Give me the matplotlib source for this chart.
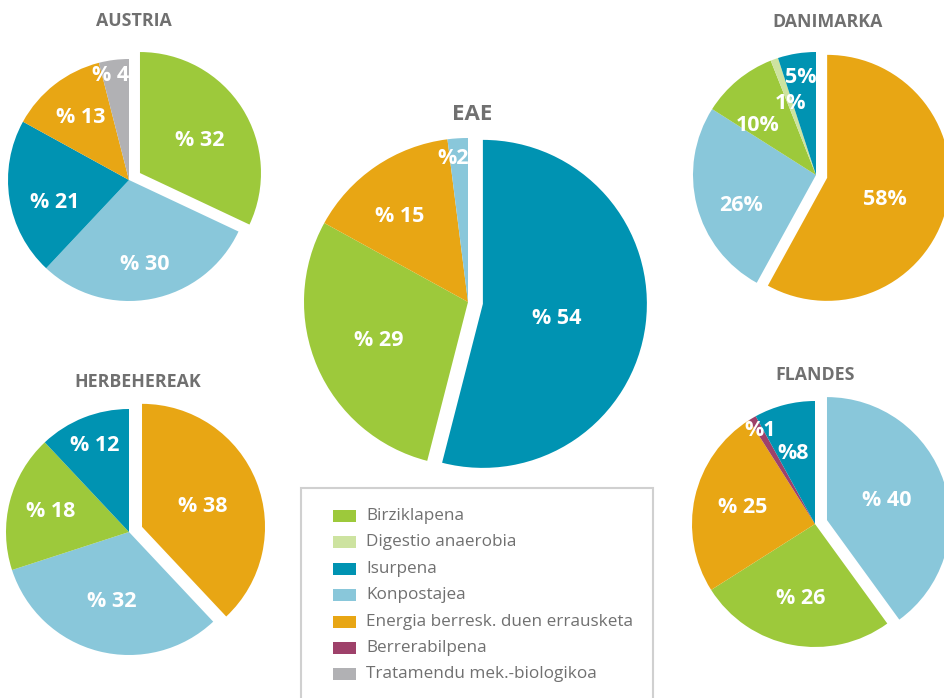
import numpy as np
import matplotlib.pyplot as plt
from matplotlib.patches import Rectangle

# kategoriak eta koloreak
kategoriak = ['Birziklapena', 'Digestio anaerobia', 'Isurpena', 'Konpostajea',
              'Energia berresk. duen errausketa', 'Berrerabilpena',
              'Tratamendu mek.-biologikoa']
koloreak = ['#9dc93b', '#cde3a0', '#0093b2', '#89c7da', '#e8a614', '#9e416a', '#b1b1b4']

# datuak (goitik hasita, erlojuaren norabidean)
austria_kat = [0, 3, 2, 4, 6]
austria_bal = [32, 30, 21, 13, 4]
austria_lab = ['% 32', '% 30', '% 21', '% 13', '% 4']

eae_kat = [2, 0, 4, 3]
eae_bal = [54, 29, 15, 2]
eae_lab = ['% 54', '% 29', '% 15', '%2']

danimarka_kat = [4, 3, 0, 1, 2]
danimarka_bal = [58, 26, 10, 1, 5]
danimarka_lab = ['58%', '26%', '10%', '1%', '5%']

herbe_kat = [4, 3, 0, 2]
herbe_bal = [38, 32, 18, 12]
herbe_lab = ['% 38', '% 32', '% 18', '% 12']

flandes_kat = [3, 0, 4, 5, 2]
flandes_bal = [40, 26, 25, 1, 8]
flandes_lab = ['% 40', '% 26', '% 25', '%1', '%8']

W, H = 944, 698
fig = plt.figure(figsize=(W / 100, H / 100), dpi=100)
ax = fig.add_axes([0, 0, 1, 1])

GRIS = '#707070'
LETRA = ['Open Sans', 'DejaVu Sans']


def tarta(kat, bal, lab, cx, cy, r, lehertu, dist, biraketa, izena, izx, izy, izsize=12.8):
    cy = H - cy
    explode = [lehertu] + [0] * (len(bal) - 1)
    wedges, _ = ax.pie(bal, colors=[koloreak[k] for k in kat], startangle=90,
                       counterclock=False, center=(cx, cy), radius=r,
                       explode=explode, wedgeprops=dict(linewidth=0))
    for w, t, d, b in zip(wedges, lab, dist, biraketa):
        ang = np.deg2rad((w.theta1 + w.theta2) / 2 + b)
        x = w.center[0] + d * r * np.cos(ang)
        y = w.center[1] + d * r * np.sin(ang)
        ax.text(x, y, t, color='white', fontsize=15.5, fontweight='bold',
                ha='center', va='center', family=LETRA)
    ax.text(izx, H - izy, izena, color=GRIS, fontsize=izsize, fontweight='bold',
            ha='center', va='center', family=LETRA)


tarta(austria_kat, austria_bal, austria_lab, 129, 180, 121, 13,
      [0.56, 0.71, 0.64, 0.65, 0.88], [-4, 0, 8, 0, 3], 'AUSTRIA', 134, 21)
tarta(eae_kat, eae_bal, eae_lab, 468, 302, 164, 15,
      [0.46, 0.59, 0.67, 0.88], [-4, 0, 4.5, 2.5], 'EAE', 472, 115, 16)
tarta(danimarka_kat, danimarka_bal, danimarka_lab, 816, 175, 123, 11.5,
      [0.5, 0.66, 0.62, 0.62, 0.8], [-6, 8, 10, 0, 0], 'DANIMARKA', 828, 22)
tarta(herbe_kat, herbe_bal, herbe_lab, 129, 532, 123, 14,
      [0.52, 0.58, 0.66, 0.76], [-3.5, 0, 0, 0], 'HERBEHEREAK', 138, 382)
tarta(flandes_kat, flandes_bal, flandes_lab, 815, 524, 123, 12.6,
      [0.51, 0.62, 0.6, 0.88, 0.6], [0, 0, 0, 0, 3], 'FLANDES', 815, 375)

# legenda
ax.add_patch(Rectangle((301, -10), 352, H - 488 + 10, facecolor='white',
                       edgecolor='#d0d0d0', linewidth=1.5))
for i, (izen, kol) in enumerate(zip(kategoriak, koloreak)):
    y = H - (516 + 26.4 * i)
    ax.add_patch(Rectangle((333, y - 6), 23, 12, facecolor=kol, linewidth=0))
    ax.text(366, y, izen, color=GRIS, fontsize=12.3, ha='left', va='center',
            family=LETRA)

ax.set_xlim(0, W)
ax.set_ylim(0, H)
ax.set_aspect('auto')
ax.axis('off')
fig.savefig('out.png', dpi=100)
